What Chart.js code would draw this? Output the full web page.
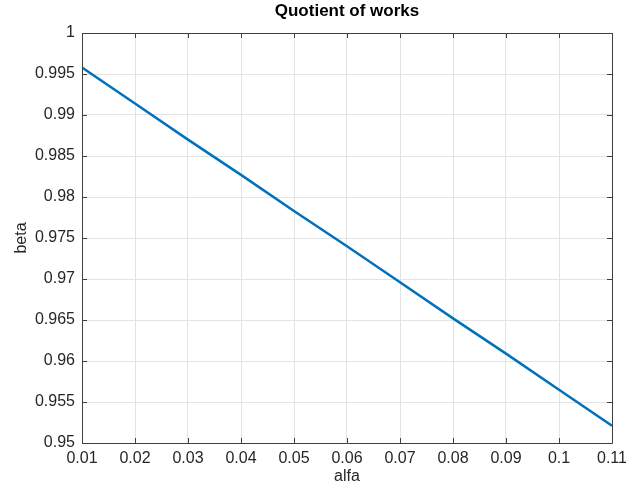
<!DOCTYPE html>
<html>
<head>
<meta charset="utf-8">
<script src="https://cdn.jsdelivr.net/npm/chart.js@4/dist/chart.umd.min.js"></script>
<style>
  html, body { margin: 0; padding: 0; background: #ffffff; }
  #wrap { width: 626px; height: 487px; }
</style>
</head>
<body>
<div id="wrap"><canvas id="c" width="626" height="487"></canvas></div>
<script>
// alfa values and the resulting work quotient beta
const alfa = [0.01, 0.02, 0.03, 0.04, 0.05, 0.06, 0.07, 0.08, 0.09, 0.10, 0.11];
const beta = [0.9958, 0.9914, 0.9870, 0.9827, 0.9783, 0.9740, 0.9696, 0.9652, 0.9609, 0.9565, 0.9521];

// axis ticks and their labels
const xTicks = [0.01, 0.02, 0.03, 0.04, 0.05, 0.06, 0.07, 0.08, 0.09, 0.10, 0.11];
const xTickLabels = ['0.01', '0.02', '0.03', '0.04', '0.05', '0.06', '0.07', '0.08', '0.09', '0.1', '0.11'];
const yTicks = [0.95, 0.955, 0.96, 0.965, 0.97, 0.975, 0.98, 0.985, 0.99, 0.995, 1];
const yTickLabels = ['0.95', '0.955', '0.96', '0.965', '0.97', '0.975', '0.98', '0.985', '0.99', '0.995', '1'];

const titleText = 'Quotient of works';
const xTitle = 'alfa';
const yTitle = 'beta';

const FONT = '"Liberation Sans", Arial, Helvetica, sans-serif';
const AXIS_COLOR = '#404040';
const TEXT_COLOR = '#262626';

// Box outline, inward tick marks and the titles, drawn around the plot area
const framePlugin = {
  id: 'frame',
  afterDraw(chart) {
    const ctx = chart.ctx;
    const a = chart.chartArea;
    const xs = chart.scales.x, ys = chart.scales.y;
    const tl = 5;
    ctx.save();
    ctx.strokeStyle = AXIS_COLOR;
    ctx.lineWidth = 1;
    ctx.beginPath();
    ctx.rect(Math.round(a.left) + 0.5, Math.round(a.top) + 0.5,
             Math.round(a.right) - Math.round(a.left), Math.round(a.bottom) - Math.round(a.top));
    xTicks.forEach(v => {
      const px = Math.round(xs.getPixelForValue(v)) + 0.5;
      ctx.moveTo(px, a.bottom); ctx.lineTo(px, a.bottom - tl);
      ctx.moveTo(px, a.top); ctx.lineTo(px, a.top + tl);
    });
    yTicks.forEach(v => {
      const py = Math.round(ys.getPixelForValue(v)) + 0.5;
      ctx.moveTo(a.left, py); ctx.lineTo(a.left + tl, py);
      ctx.moveTo(a.right, py); ctx.lineTo(a.right - tl, py);
    });
    ctx.stroke();

    const cx = (a.left + a.right) / 2;
    const cy = (a.top + a.bottom) / 2;
    ctx.fillStyle = '#000000';
    ctx.textAlign = 'center';
    ctx.textBaseline = 'middle';
    ctx.font = 'bold 17px ' + FONT;
    ctx.fillText(titleText, cx, 11);

    ctx.fillStyle = TEXT_COLOR;
    ctx.font = '16px ' + FONT;
    ctx.fillText(xTitle, cx, 477);
    ctx.translate(22, cy);
    ctx.rotate(-Math.PI / 2);
    ctx.fillText(yTitle, 0, 0);
    ctx.restore();
  }
};

new Chart(document.getElementById('c'), {
  type: 'line',
  data: {
    datasets: [{
      data: alfa.map((x, i) => ({ x: x, y: beta[i] })),
      borderColor: '#0072BD',
      borderWidth: 2.5,
      pointRadius: 0,
      tension: 0,
      fill: false
    }]
  },
  options: {
    responsive: false,
    animation: false,
    layout: { padding: { top: 33, right: 14, left: 0, bottom: 0 } },
    plugins: {
      legend: { display: false },
      title: { display: false },
      tooltip: { enabled: false }
    },
    scales: {
      x: {
        type: 'linear',
        min: 0.01,
        max: 0.11,
        afterBuildTicks: s => { s.ticks = xTicks.map(v => ({ value: v })); },
        afterFit: s => { s.height = 44; s.paddingLeft = 0; s.paddingRight = 0; },
        ticks: {
          callback: (v, i) => xTickLabels[i],
          autoSkip: false,
          maxRotation: 0,
          padding: 6,
          color: TEXT_COLOR,
          font: { family: FONT, size: 16 }
        },
        grid: { color: '#e3e3e3', drawTicks: false, lineWidth: 1 },
        border: { display: false }
      },
      y: {
        type: 'linear',
        min: 0.95,
        max: 1,
        afterBuildTicks: s => { s.ticks = yTicks.map(v => ({ value: v })); },
        afterFit: s => { s.width = 82; s.paddingTop = 0; s.paddingBottom = 0; },
        ticks: {
          callback: (v, i) => yTickLabels[i],
          autoSkip: false,
          padding: 7,
          color: TEXT_COLOR,
          font: { family: FONT, size: 16 }
        },
        grid: { color: '#e3e3e3', drawTicks: false, lineWidth: 1 },
        border: { display: false }
      }
    }
  },
  plugins: [framePlugin]
});
</script>
</body>
</html>
